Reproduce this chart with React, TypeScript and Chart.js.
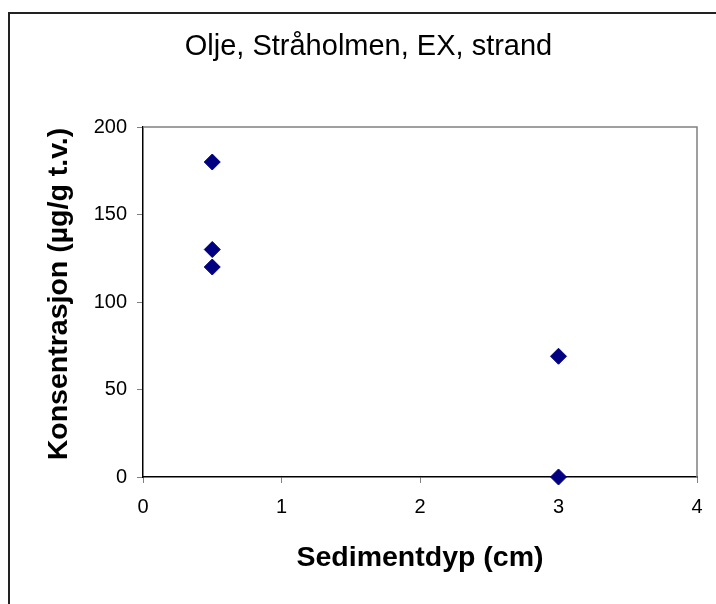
import React, { useEffect, useRef } from "react";
import { Chart, registerables } from "chart.js";

Chart.register(...registerables);

const chartTitle = "Olje, Stråholmen, EX, strand";
const xAxisTitle = "Sedimentdyp (cm)";
const yAxisTitle = "Konsentrasjon (µg/g t.v.)";
const depthValues = [0.5, 0.5, 0.5, 3, 3];
const concentrationValues = [180, 130, 120, 69, 0];
const xTicks = [0, 1, 2, 3, 4];
const yTicks = [0, 50, 100, 150, 200];

const FONT = "Arial, 'Liberation Sans', sans-serif";

const framePlugin = {
  id: "frame",
  beforeDatasetsDraw(chart: any) {
    const { ctx, chartArea } = chart;
    ctx.save();
    ctx.strokeStyle = "#808080";
    ctx.lineWidth = 1.5;
    ctx.beginPath();
    ctx.moveTo(chartArea.left, chartArea.top);
    ctx.lineTo(chartArea.right, chartArea.top);
    ctx.lineTo(chartArea.right, chartArea.bottom);
    ctx.stroke();
    ctx.restore();
  },
  afterDraw(chart: any) {
    const { ctx, width, height } = chart;
    ctx.save();
    ctx.strokeStyle = "#222";
    ctx.lineWidth = 2;
    ctx.beginPath();
    ctx.moveTo(9, height + 5);
    ctx.lineTo(9, 13);
    ctx.lineTo(width + 5, 13);
    ctx.stroke();
    // y axis title
    ctx.translate(59, 294);
    ctx.rotate(-Math.PI / 2);
    ctx.fillStyle = "#000";
    ctx.font = `bold 28.5px ${FONT}`;
    ctx.textAlign = "center";
    ctx.textBaseline = "middle";
    ctx.fillText(yAxisTitle, 0, 0);
    ctx.restore();
  },
};

export default function App() {
  const ref = useRef<HTMLCanvasElement>(null);
  useEffect(() => {
    if (!ref.current) return;
    const chart = new Chart(ref.current, {
      type: "scatter",
      data: {
        datasets: [
          {
            data: depthValues.map((x, i) => ({ x, y: concentrationValues[i] })),
            pointStyle: "rectRot",
            pointRadius: 8,
            pointBorderWidth: 1,
            backgroundColor: "#000080",
            borderColor: "#000080",
            clip: false as any,
          },
        ],
      },
      options: {
        responsive: false,
        animation: false,
        layout: { padding: { top: 13, left: 40, right: 19, bottom: 20 } },
        plugins: {
          legend: { display: false },
          tooltip: { enabled: false },
          title: {
            display: true,
            text: chartTitle,
            color: "#000",
            font: { family: FONT, size: 29, weight: "normal" as any, lineHeight: 1.2 },
            padding: { top: 17, bottom: 62.2 },
          },
        },
        scales: {
          x: {
            type: "linear",
            min: 0,
            max: 4,
            afterFit(scale: any) {
              scale.height = 107;
            },
            afterBuildTicks(scale: any) {
              scale.ticks = xTicks.map((v) => ({ value: v }));
            },
            ticks: {
              color: "#000",
              font: { family: FONT, size: 20 },
              padding: 12,
              maxRotation: 0,
            },
            grid: {
              drawOnChartArea: false,
              drawTicks: true,
              tickLength: 6,
              color: "#808080",
            },
            border: { color: "#000", width: 1.5 },
            title: {
              display: true,
              text: xAxisTitle,
              color: "#000",
              font: { family: FONT, size: 28.5, weight: "bold" as any, lineHeight: 1.2 },
              padding: { top: 0, bottom: 9 },
            },
          },
          y: {
            type: "linear",
            min: 0,
            max: 200,
            afterFit(scale: any) {
              scale.width = 103;
            },
            afterBuildTicks(scale: any) {
              scale.ticks = yTicks.map((v) => ({ value: v }));
            },
            ticks: {
              color: "#000",
              font: { family: FONT, size: 20 },
              padding: 10,
            },
            grid: {
              drawOnChartArea: false,
              drawTicks: true,
              tickLength: 6,
              color: "#808080",
            },
            border: { color: "#000", width: 1.5 },
            title: { display: false },
          },
        },
      },
      plugins: [framePlugin],
    });
    return () => chart.destroy();
  }, []);
  return (
    <div style={{ position: "fixed", left: 0, top: 0, width: 716, height: 604, background: "#fff" }}>
      <canvas ref={ref} width={716} height={604} style={{ display: "block" }} />
    </div>
  );
}
